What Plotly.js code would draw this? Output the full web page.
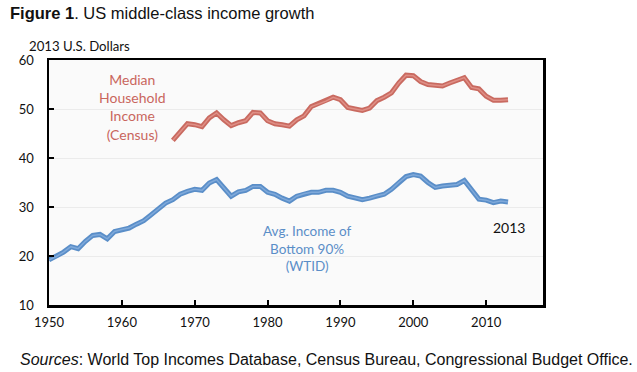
<!DOCTYPE html>
<html><head><meta charset="utf-8">
<script src="https://cdn.plot.ly/plotly-3.0.1.min.js"></script>
<style>html,body{margin:0;padding:0;background:#fff;}#chart{width:637px;height:372px;}</style>
</head><body><div id="chart"></div>
<script>
const medianYears = [1967,1968,1969,1970,1971,1972,1973,1974,1975,1976,1977,1978,1979,1980,1981,1982,1983,1984,1985,1986,1987,1988,1989,1990,1991,1992,1993,1994,1995,1996,1997,1998,1999,2000,2001,2002,2003,2004,2005,2006,2007,2008,2009,2010,2011,2012,2013];
const medianIncome = [43.6,45.4,47.0,46.8,46.4,48.2,49.2,47.8,46.6,47.2,47.6,49.3,49.2,47.6,47.0,46.8,46.5,47.8,48.6,50.5,51.1,51.6,52.4,51.9,50.3,50.0,49.7,50.2,51.7,52.4,53.3,55.3,56.9,56.8,55.6,55.0,54.8,54.7,55.3,55.8,56.4,54.4,54.1,52.6,51.8,51.8,51.9];
const bottomYears = [1950,1951,1952,1953,1954,1955,1956,1957,1958,1959,1960,1961,1962,1963,1964,1965,1966,1967,1968,1969,1970,1971,1972,1973,1974,1975,1976,1977,1978,1979,1980,1981,1982,1983,1984,1985,1986,1987,1988,1989,1990,1991,1992,1993,1994,1995,1996,1997,1998,1999,2000,2001,2002,2003,2004,2005,2006,2007,2008,2009,2010,2011,2012,2013];
const bottomIncome = [19.2,19.9,20.8,21.9,21.5,23.0,24.2,24.4,23.5,25.0,25.4,25.7,26.5,27.2,28.4,29.6,30.8,31.5,32.6,33.2,33.6,33.4,34.9,35.6,33.9,32.2,33.1,33.4,34.2,34.2,33.0,32.6,31.8,31.2,32.2,32.7,33.0,33.0,33.4,33.4,33.0,32.2,31.9,31.5,31.8,32.3,32.6,33.6,35.0,36.2,36.6,36.3,35.0,34.0,34.3,34.4,34.6,35.4,33.6,31.6,31.4,30.9,31.2,31.0];
const xTicks = [1950,1960,1970,1980,1990,2000,2010];
const yTicks = [10,20,30,40,50,60];

const lab = '"Lato", "Open Sans", sans-serif';
const arial = '"Liberation Sans", Arial, sans-serif';

const traces = [
  {x: medianYears, y: medianIncome, mode:'lines', line:{color:'#c96a60', width:5}, hoverinfo:'skip'},
  {x: medianYears, y: medianIncome, mode:'lines', line:{color:'#df8f86', width:1.5}, hoverinfo:'skip'},
  {x: bottomYears, y: bottomIncome, mode:'lines', line:{color:'#5a8ec8', width:5}, hoverinfo:'skip'},
  {x: bottomYears, y: bottomIncome, mode:'lines', line:{color:'#7fa9da', width:1.5}, hoverinfo:'skip'}
];

const layout = {
  width:637, height:372,
  margin:{l:49, r:94, t:60, b:67},
  paper_bgcolor:'#ffffff', plot_bgcolor:'#fafafa',
  showlegend:false,
  xaxis:{range:[1950,2017.8], tickvals:xTicks, ticktext:xTicks.map(String), ticks:'inside', ticklen:5, tickwidth:2, tickcolor:'#000',
         showline:true, linecolor:'#000', linewidth:2.5, mirror:true, showgrid:false, zeroline:false, ticklabelstandoff:4,
         tickfont:{family:lab, size:13, color:'#111'}},
  yaxis:{range:[10,60], tickvals:yTicks, ticktext:yTicks.map(String), ticks:'inside', ticklen:5, tickwidth:2, tickcolor:'#000',
         showline:true, linecolor:'#000', linewidth:2.5, mirror:true, showgrid:true, gridcolor:'#ebebeb', gridwidth:1, zeroline:false, ticklabelstandoff:10,
         tickfont:{family:lab, size:13, color:'#111'}},
  annotations:[
    {xref:'paper', yref:'paper', x:-0.083, y:1.19, xanchor:'left', yanchor:'middle', showarrow:false, align:'left',
     text:'<b>Figure 1</b>. US middle-class income growth', font:{family:arial, size:16.5, color:'#111'}},
    {xref:'paper', yref:'paper', x:-0.045, y:1.057, xanchor:'left', yanchor:'middle', showarrow:false,
     text:'2013 U.S. Dollars', font:{family:lab, size:13.2, color:'#111'}},
    {xref:'x', yref:'y', x:1961.4, y:50.4, xanchor:'center', yanchor:'middle', showarrow:false, align:'center',
     text:'Median<br>Household<br>Income<br>(Census)', font:{family:lab, size:14, color:'#c9665d'}},
    {xref:'x', yref:'y', x:1985.4, y:21.6, xanchor:'center', yanchor:'middle', showarrow:false, align:'center',
     text:'Avg. Income of<br>Bottom 90%<br>(WTID)', font:{family:lab, size:13.5, color:'#5a8ec8'}},
    {xref:'x', yref:'y', x:2013.2, y:25.8, xanchor:'center', yanchor:'middle', showarrow:false,
     text:'2013', font:{family:lab, size:14, color:'#111'}},
    {xref:'paper', yref:'paper', x:-0.063, y:-0.224, xanchor:'left', yanchor:'middle', showarrow:false, align:'left',
     text:'<i>Sources</i>: World Top Incomes Database, Census Bureau, Congressional Budget Office.', font:{family:arial, size:16, color:'#111'}}
  ]
};
Plotly.newPlot('chart', traces, layout, {displayModeBar:false, staticPlot:true});
</script></body></html>
